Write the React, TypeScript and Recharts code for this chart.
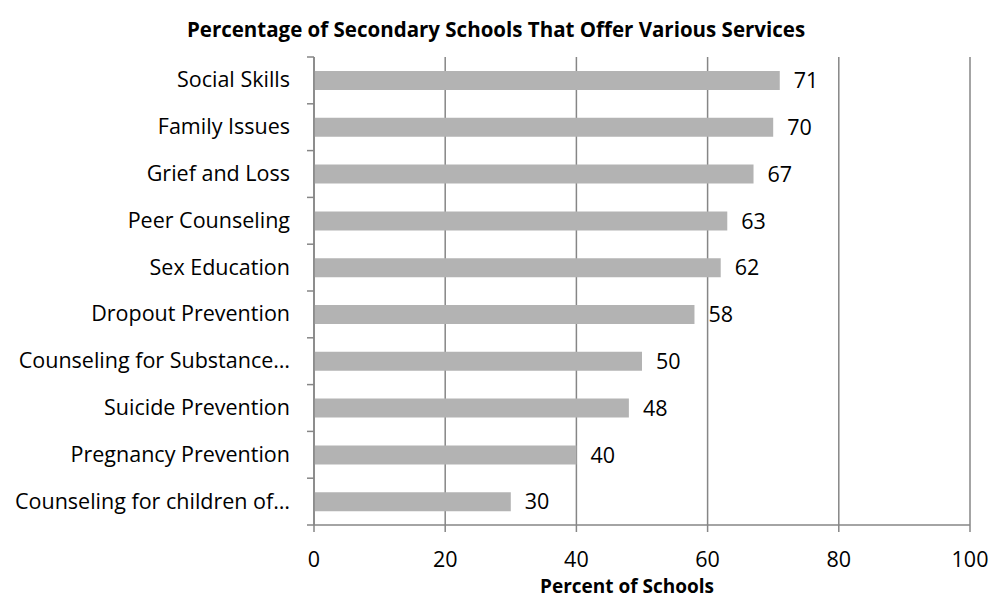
import { BarChart, Bar, XAxis, YAxis, CartesianGrid, LabelList } from "recharts"

const services = [
  "Social Skills",
  "Family Issues",
  "Grief and Loss",
  "Peer Counseling",
  "Sex Education",
  "Dropout Prevention",
  "Counseling for Substance…",
  "Suicide Prevention",
  "Pregnancy Prevention",
  "Counseling for children of…",
]
const percents = [71, 70, 67, 63, 62, 58, 50, 48, 40, 30]
const xTicks = [0, 20, 40, 60, 80, 100]

const data = services.map((name, i) => ({ name, value: percents[i] }))

const FONT = "'Open Sans', sans-serif"
const AXIS = "#868686"
const TOP = 57
const BOTTOM_AXIS = 525
const LEFT = 314
const BAND = (BOTTOM_AXIS - TOP) / services.length
const FS = 21.5

const CategoryTick = (props: any) => {
  const { y, payload, index } = props
  return (
    <g>
      <text x={LEFT - 24} y={y} dy={7} textAnchor="end" fontSize={FS} fontFamily={FONT} fill="#000">
        {payload.value}
      </text>
      <line x1={LEFT - 7} x2={LEFT} y1={y + BAND / 2} y2={y + BAND / 2} stroke={AXIS} strokeWidth={1.5} />
      {index === 0 && (
        <line x1={LEFT - 7} x2={LEFT} y1={y - BAND / 2} y2={y - BAND / 2} stroke={AXIS} strokeWidth={1.5} />
      )}
    </g>
  )
}

export default function App() {
  return (
    <div style={{ position: "absolute", left: 0, top: 0, width: 1000, height: 600, background: "#fff" }}>
      <div
        style={{
          position: "absolute",
          top: 15,
          left: -4,
          width: 1000,
          textAlign: "center",
          fontFamily: FONT,
          fontWeight: 700,
          fontSize: 20.5,
          lineHeight: "28px",
        }}
      >
        Percentage of Secondary Schools That Offer Various Services
      </div>
      <BarChart
        width={1000}
        height={600}
        data={data}
        layout="vertical"
        margin={{ top: TOP, right: 30, bottom: 600 - BOTTOM_AXIS - 40, left: 0 }}
      >
        <CartesianGrid horizontal={false} stroke={AXIS} strokeWidth={1.5} />
        <XAxis
          type="number"
          domain={[0, 100]}
          ticks={xTicks}
          height={40}
          stroke={AXIS}
          strokeWidth={1.5}
          tickSize={7}
          tick={{ fill: "#000", fontSize: FS, fontFamily: FONT, dy: 18 }}
          label={{
            value: "Percent of Schools",
            position: "insideBottom",
            dx: -15,
            dy: 33,
            fill: "#000",
            fontSize: 19,
            fontWeight: 700,
            fontFamily: FONT,
          }}
        />
        <YAxis
          type="category"
          dataKey="name"
          width={LEFT}
          stroke={AXIS}
          strokeWidth={1.5}
          tickLine={false}
          tick={<CategoryTick />}
          interval={0}
        />
        <Bar dataKey="value" fill="#b3b3b3" barSize={19} isAnimationActive={false}>
          <LabelList
            dataKey="value"
            position="right"
            offset={14}
            fill="#000"
            fontSize={FS}
            fontFamily={FONT}
          />
        </Bar>
      </BarChart>
    </div>
  )
}
